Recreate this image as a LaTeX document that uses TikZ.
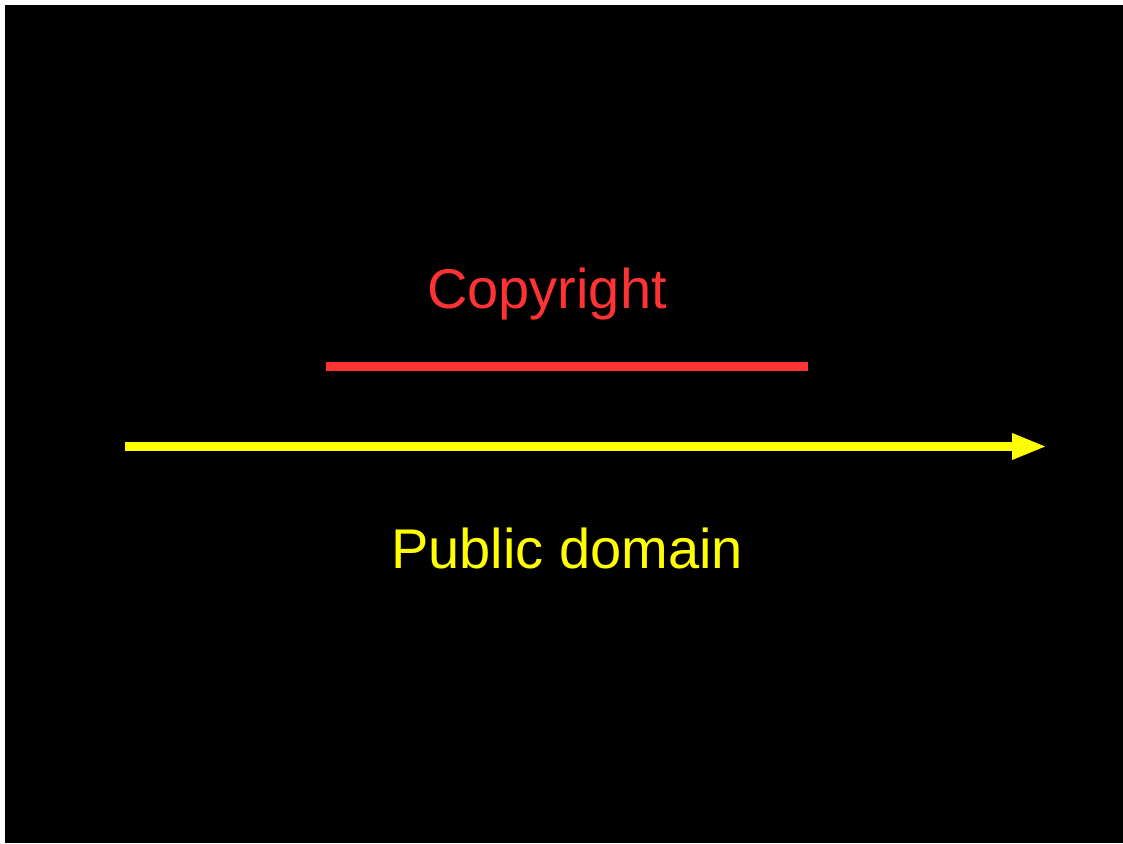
\documentclass[tikz,border=0pt]{standalone}
\usepackage{fontspec}
\setmainfont{Liberation Sans}
\usetikzlibrary{arrows.meta}
\definecolor{cred}{HTML}{FF3333}
\definecolor{cyellow}{HTML}{FFFF00}
\tikzset{
  lbl/.style={anchor=base, inner sep=0pt, font=\fontsize{56}{60}\selectfont},
  bar/.style={line width=9pt},
}
\begin{document}
\begin{tikzpicture}[x=1pt,y=-1pt]
\useasboundingbox (0,0) rectangle (1123,843);
\fill[white] (0,0) rectangle (1123,843);
\fill[black] (5,5) rectangle (1123,843);
\node[lbl, text=cred] (copy) at (547,308) {Copyright};
\node[lbl, text=cyellow] (pd) at (567,568) {Public domain};
\coordinate (r1) at (326,366.5);
\coordinate (r2) at (808,366.5);
\coordinate (y1) at (125,446.5);
\coordinate (y2) at (1047,446.5);
\draw[bar, cred] (r1) -- (r2);
\draw[bar, cyellow, -{Triangle[length=35pt,width=24pt]}] (y1) -- (y2);
\end{tikzpicture}
\end{document}
